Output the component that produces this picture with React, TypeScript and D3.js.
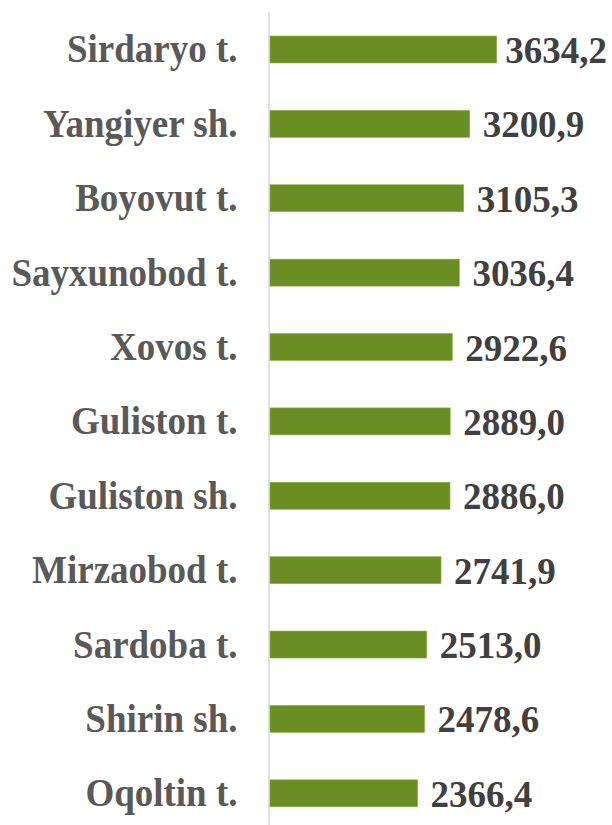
import React from "react";
import * as d3 from "d3";

const categories = [
  "Sirdaryo t.",
  "Yangiyer sh.",
  "Boyovut t.",
  "Sayxunobod t.",
  "Xovos t.",
  "Guliston t.",
  "Guliston sh.",
  "Mirzaobod t.",
  "Sardoba t.",
  "Shirin sh.",
  "Oqoltin t.",
];
const values = [3634.2, 3200.9, 3105.3, 3036.4, 2922.6, 2889.0, 2886.0, 2741.9, 2513.0, 2478.6, 2366.4];

const W = 612;
const H = 825;
const FONT = "'Liberation Serif', 'Times New Roman', serif";

export default function App() {
  const x = d3.scaleLinear().domain([0, 4000]).range([270, 270 + 249.5]);
  const y = d3
    .scaleBand<string>()
    .domain(categories)
    .range([12.3, 830.5])
    .paddingInner(0.637)
    .paddingOuter(0.3185);
  const fmt = (v: number) => v.toFixed(1).replace(".", ",");
  const bw = y.bandwidth();
  return (
    <svg
      width={W}
      height={H}
      style={{ position: "absolute", left: 0, top: 0, background: "#fff" }}
    >
      <line x1={269} x2={269} y1={12} y2={H} stroke="#d9d9d9" strokeWidth={1.5} />
      {categories.map((c, i) => {
        const yc = (y(c) as number) + bw / 2;
        const v = values[i];
        const xe = x(v);
        const labelW = 101.75;
        let lx = xe + 13;
        if (lx + labelW > 607) lx = 607 - labelW;
        return (
          <g key={c}>
            <rect
              x={x(0)}
              y={y(c)}
              width={xe - x(0)}
              height={bw}
              fill="#6B8E23"
              stroke="#8fb04a"
              strokeWidth={0.6}
            />
            <g transform={`translate(0,${yc + 13}) scale(1,1.07)`}>
              <text
                x={237.5}
                y={0}
                textAnchor="end"
                fontFamily={FONT}
                fontWeight="bold"
                fontSize={37}
                fill="#595959"
              >
                {c}
              </text>
            </g>
            <g transform={`translate(0,${yc + 13.5}) scale(1,1.04)`}>
              <text
                x={lx}
                y={0}
                textAnchor="start"
                fontFamily={FONT}
                fontWeight="bold"
                fontSize={37}
                fill="#404040"
              >
                {fmt(v)}
              </text>
            </g>
          </g>
        );
      })}
    </svg>
  );
}
